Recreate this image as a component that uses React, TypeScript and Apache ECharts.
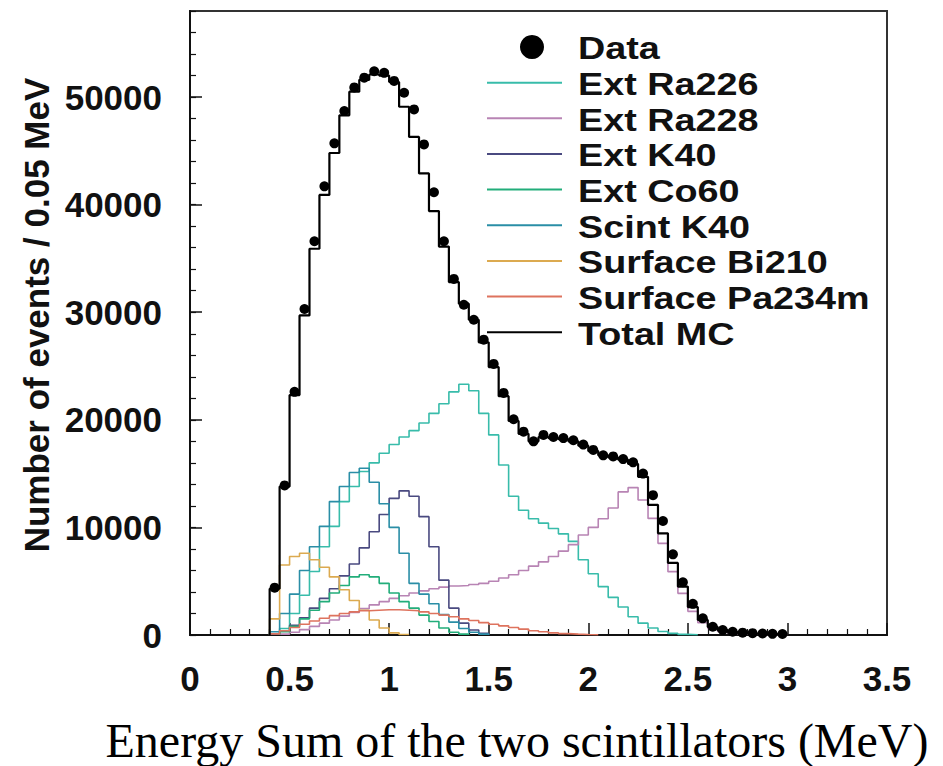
import React, { useEffect, useRef } from "react";
import * as echarts from "echarts";

// ---------------- data (bin width 0.05 MeV, values = counts per bin) ----------------
const BIN = 0.05;

const xTickLabels = ["0", "0.5", "1", "1.5", "2", "2.5", "3", "3.5"];
const yTickLabels = ["0", "10000", "20000", "30000", "40000", "50000"];

const seriesNames = [
  "Ext Ra226",
  "Ext Ra228",
  "Ext K40",
  "Ext Co60",
  "Scint K40",
  "Surface Bi210",
  "Surface Pa234m",
  "Total MC",
];

// Data points (first bin starts at 0.40 MeV)
const dataStart = 0.4;
const dataCounts = [
  4400, 13900, 22600, 30300, 36600, 41700, 45700, 48700, 50900, 51800,
  52400, 52250, 51500, 50400, 48850, 45600, 41150, 36600, 33100, 30700,
  29300, 27450, 25200, 22500, 20050, 18900, 18000, 18600, 18400, 18300,
  18100, 17700, 17200, 16700, 16600, 16350, 16050, 15000, 13000, 10600,
  7500, 4900, 2900, 1550, 770, 460, 300, 220, 170, 140, 110, 90,
];

const totalMCStart = 0.4;
const totalMC = [
  4300, 13800, 22300, 29700, 35900, 40900, 44800, 48300, 50500, 51600,
  52100, 52000, 51400, 49100, 46300, 42900, 39400, 36100, 32800, 30800,
  29300, 27200, 24900, 22200, 19900, 18700, 18000, 18400, 18300, 18200,
  18000, 17600, 17100, 16700, 16500, 16300, 15900, 14700, 12100, 9450,
  6700, 4500, 2600, 1400, 750, 420, 260, 180, 130, 100, 80, 60,
];

const ra226Start = 0.4;
const extRa226 = [
  100, 600, 2000, 3700, 5900, 8200, 10100, 12400, 13800, 15200,
  16000, 16900, 17700, 18400, 19000, 19700, 20600, 21500, 22600, 23300,
  22700, 20600, 18600, 15800, 12900, 11600, 10800, 10400, 9900, 9400,
  8700, 7000, 5700, 4500, 3500, 2600, 1700, 1100, 650, 320,
  150, 60, 20,
];

const ra228Start = 0.45;
const extRa228 = [
  80, 250, 500, 800, 1100, 1400, 1750, 2100, 2450, 2800,
  3100, 3400, 3650, 3900, 4100, 4300, 4450, 4550, 4600, 4700,
  4800, 5000, 5300, 5600, 6000, 6400, 6800, 7300, 7800, 8400,
  9300, 10000, 10800, 11800, 13300, 13700, 12550, 10840, 8520, 5890,
  3870, 2200, 1150, 600, 320, 180, 110, 70, 50, 30, 20,
];

const k40Start = 0.4;
const extK40 = [
  100, 400, 900, 1600, 2500, 3400, 4300, 5500, 6600, 8100,
  9600, 11200, 12700, 13400, 12900, 11000, 8200, 5100, 2500, 1100,
  460, 150,
];

const co60Start = 0.45;
const extCo60 = [
  300, 800, 1500, 2300, 3100, 3900, 4600, 5400, 5600, 5400,
  4800, 3900, 3100, 2500, 1850, 1250, 650, 250, 80,
];

const scintK40Start = 0.4;
const scintK40 = [
  300, 2000, 3800, 6000, 8200, 10100, 12400, 13800, 15100, 15500,
  14200, 12200, 10000, 7600, 4800, 3800, 2900, 1900, 1200, 600,
  250, 80,
];

const bi210Start = 0.4;
const surfBi210 = [
  1500, 6500, 7300, 7600, 7000, 6300, 5400, 4200, 3200, 2300,
  1400, 650, 200, 50,
];

const pa234mStart = 0.4;
const surfPa234m = [
  100, 400, 700, 1000, 1300, 1550, 1800, 2000, 2150, 2250,
  2300, 2350, 2350, 2300, 2250, 2150, 2000, 1850, 1700, 1500,
  1350, 1150, 1000, 850, 700, 550, 400, 300, 200, 130,
  80, 40, 20,
];

// ---------------- styles ----------------
const COLORS: Record<string, string> = {
  "Ext Ra226": "#38bcaa",
  "Ext Ra228": "#b884b4",
  "Ext K40": "#4a4a80",
  "Ext Co60": "#22ad7a",
  "Scint K40": "#2a8ea6",
  "Surface Bi210": "#dcaa50",
  "Surface Pa234m": "#de735e",
  "Total MC": "#000000",
};

const round = (v: number) => Math.round(v * 1000) / 1000;

function histPoints(vals: number[], start: number): number[][] {
  const pts: number[][] = [[round(start), 0]];
  vals.forEach((v, i) => pts.push([round(start + i * BIN), v]));
  pts.push([round(start + vals.length * BIN), 0]);
  return pts;
}

const components: { name: string; start: number; vals: number[] }[] = [
  { name: "Ext Ra226", start: ra226Start, vals: extRa226 },
  { name: "Ext Ra228", start: ra228Start, vals: extRa228 },
  { name: "Ext K40", start: k40Start, vals: extK40 },
  { name: "Ext Co60", start: co60Start, vals: extCo60 },
  { name: "Scint K40", start: scintK40Start, vals: scintK40 },
  { name: "Surface Bi210", start: bi210Start, vals: surfBi210 },
  { name: "Surface Pa234m", start: pa234mStart, vals: surfPa234m },
];

export default function App() {
  const ref = useRef<HTMLDivElement>(null);

  useEffect(() => {
    if (!ref.current) return;
    const chart = echarts.init(ref.current, undefined, { renderer: "svg" });

    const FONT = "Liberation Sans, Arial, Helvetica, sans-serif";

    const series: any[] = components.map((c) => ({
      name: c.name,
      type: "line",
      step: "end",
      showSymbol: false,
      symbol: "none",
      data: histPoints(c.vals, c.start),
      lineStyle: { color: COLORS[c.name], width: 1.6 },
      itemStyle: { color: COLORS[c.name] },
      z: 3,
      silent: true,
    }));

    series.push({
      name: "Total MC",
      type: "line",
      step: "end",
      showSymbol: false,
      symbol: "none",
      data: histPoints(totalMC, totalMCStart),
      lineStyle: { color: "#000", width: 2.2 },
      itemStyle: { color: "#000" },
      z: 4,
      silent: true,
    });

    series.push({
      name: "Data",
      type: "scatter",
      symbol: "circle",
      symbolSize: 10,
      data: dataCounts.map((v, i) => [round(dataStart + (i + 0.5) * BIN), v]),
      itemStyle: { color: "#000", opacity: 1 },
      z: 5,
      silent: true,
    });

    // legend drawn as graphic
    const legendItems = ["Data", ...seriesNames];
    const rowY0 = 47;
    const rowStep = 35.65;
    const graphics: any[] = [];
    legendItems.forEach((name, i) => {
      const y = rowY0 + i * rowStep;
      if (name === "Data") {
        graphics.push({
          type: "circle",
          shape: { cx: 532, cy: y, r: 12 },
          style: { fill: "#000" },
        });
      } else {
        graphics.push({
          type: "line",
          shape: { x1: 487, y1: y, x2: 562, y2: y },
          style: { stroke: COLORS[name], lineWidth: 2 },
        });
      }
      graphics.push({
        type: "text",
        x: 578,
        y: y + 1,
        scaleX: 1.18,
        style: {
          text: name,
          x: 0,
          y: 0,
          fill: "#111",
          fontSize: 32,
          fontWeight: "bold",
          fontFamily: FONT,
          align: "left",
          verticalAlign: "middle",
          textAlign: "left",
          textVerticalAlign: "middle",
        },
      });
    });

    // y-axis title
    graphics.push({
      type: "text",
      x: 36,
      y: 315,
      rotation: Math.PI / 2,
      style: {
        text: "Number of events / 0.05 MeV",
        x: 0,
        y: 0,
        fill: "#111",
        fontSize: 35,
        fontWeight: "bold",
        fontFamily: FONT,
        align: "center",
        verticalAlign: "middle",
        textAlign: "center",
        textVerticalAlign: "middle",
      },
    });

    // x-axis title (serif caption)
    graphics.push({
      type: "text",
      x: 517,
      y: 740,
      style: {
        text: "Energy Sum of the two scintillators (MeV)",
        x: 0,
        y: 0,
        fill: "#000",
        fontSize: 48,
        fontWeight: "normal",
        fontFamily: "Liberation Serif, Times New Roman, serif",
        align: "center",
        verticalAlign: "middle",
        textAlign: "center",
        textVerticalAlign: "middle",
      },
    });

    const option: any = {
      animation: false,
      backgroundColor: "#ffffff",
      grid: {
        left: 190,
        right: 56,
        top: 11,
        bottom: 131,
        containLabel: false,
        show: true,
        borderColor: "#333",
        borderWidth: 2,
        backgroundColor: "transparent",
      },
      xAxis: {
        type: "value",
        min: 0,
        max: 3.5,
        interval: 0.5,
        position: "bottom",
        axisLine: { show: true, onZero: false, lineStyle: { color: "#111", width: 2 } },
        axisTick: { show: true, inside: true, length: 12, lineStyle: { color: "#111", width: 1.5 } },
        minorTick: { show: true, splitNumber: 5, length: 6, lineStyle: { color: "#111", width: 1.2 } },
        splitLine: { show: false },
        minorSplitLine: { show: false },
        axisLabel: {
          show: true,
          margin: 26,
          color: "#111",
          fontSize: 35,
          fontWeight: "bold",
          fontFamily: FONT,
          formatter: (v: number) => {
            const idx = Math.round(v / 0.5);
            return xTickLabels[idx] ?? "";
          },
        },
      },
      yAxis: [
        {
          type: "value",
          min: 0,
          max: 58000,
          interval: 10000,
          position: "left",
          axisLine: { show: true, onZero: false, lineStyle: { color: "#111", width: 2 } },
          axisTick: { show: true, inside: true, length: 12, lineStyle: { color: "#111", width: 1.5 } },
          splitLine: { show: false },
          axisLabel: {
            show: true,
            margin: 28,
            color: "#111",
            fontSize: 35,
            fontWeight: "bold",
            fontFamily: FONT,
            showMaxLabel: false,
            formatter: (v: number) => {
              const idx = Math.round(v / 10000);
              return v % 10000 === 0 ? yTickLabels[idx] ?? "" : "";
            },
          },
        },
        {
          type: "value",
          min: 0,
          max: 58000,
          interval: 2000,
          position: "left",
          offset: 0,
          axisLine: { show: false },
          axisTick: { show: true, inside: true, length: 6, lineStyle: { color: "#111", width: 1.2 } },
          splitLine: { show: false },
          axisLabel: { show: false },
        },
      ],
      series,
      graphic: { elements: graphics },
    };

    chart.setOption(option);
    return () => chart.dispose();
  }, []);

  return (
    <div
      ref={ref}
      style={{ position: "fixed", left: 0, top: 0, width: 943, height: 766, background: "#fff" }}
    />
  );
}
